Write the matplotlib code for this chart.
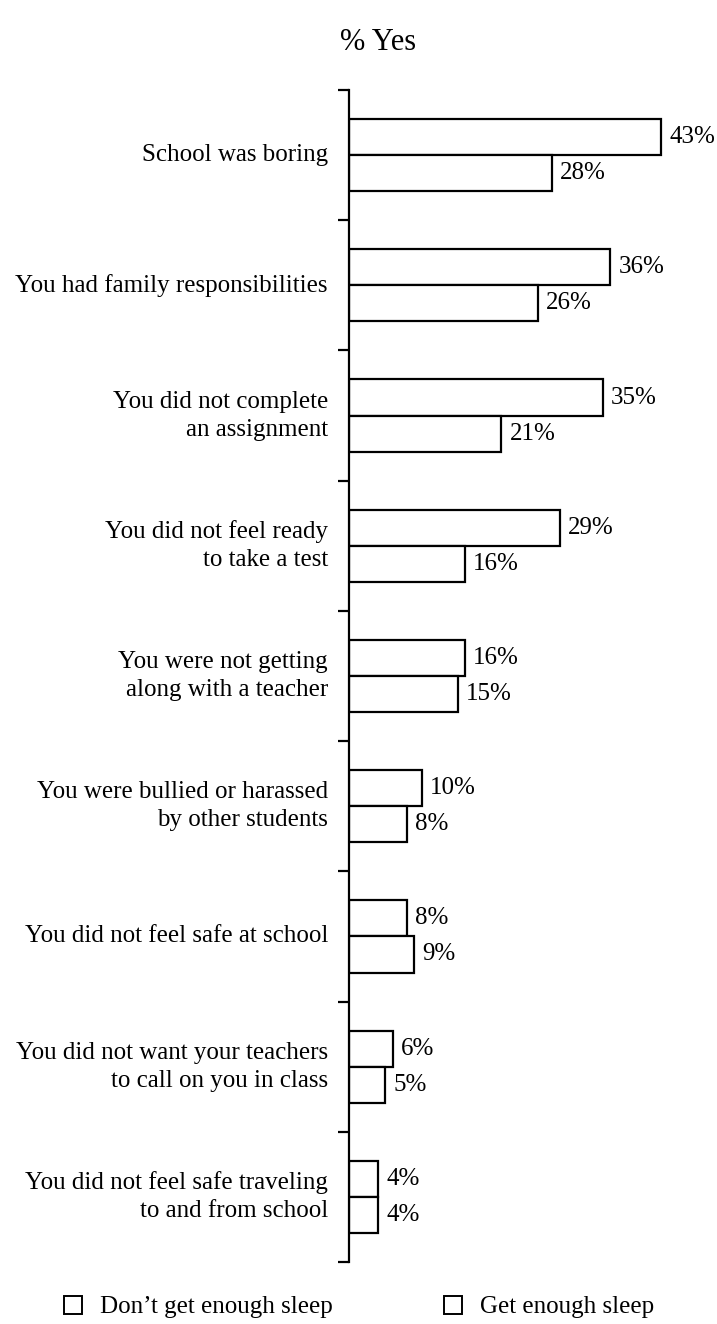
import matplotlib
matplotlib.use("Agg")
import matplotlib.pyplot as plt
from matplotlib.patches import Patch
import numpy as np

plt.rcParams['font.family'] = ['Liberation Serif', 'DejaVu Serif']

categories = [
    "School was boring",
    "You had family responsibilities",
    "You did not complete\nan assignment",
    "You did not feel ready\nto take a test",
    "You were not getting\nalong with a teacher",
    "You were bullied or harassed\nby other students",
    "You did not feel safe at school",
    "You did not want your teachers\nto call on you in class",
    "You did not feel safe traveling\nto and from school",
]
not_enough_sleep = [43, 36, 35, 29, 16, 10, 8, 6, 4]
enough_sleep = [28, 26, 21, 16, 15, 8, 9, 5, 4]
series_names = ["Don\u2019t get enough sleep", "Get enough sleep"]

fig = plt.figure(figsize=(7.17, 13.24), dpi=100)
W, H = 717, 1324
ax_left, ax_right = 349, 349 + 363
ax_top, ax_bottom = 90, 1262
ax = fig.add_axes([ax_left / W, 1 - ax_bottom / H, (ax_right - ax_left) / W, (ax_bottom - ax_top) / H])

n = len(categories)
y = np.arange(n)
h = 0.277
ax.barh(y - h / 2, not_enough_sleep, height=h, color='white', edgecolor='black', linewidth=1.6)
ax.barh(y + h / 2, enough_sleep, height=h, color='white', edgecolor='black', linewidth=1.6)

for yi, v in zip(y - h / 2, not_enough_sleep):
    ax.text(v + 1.1, yi, f"{v}%", va='center', ha='left', fontsize=18)
for yi, v in zip(y + h / 2, enough_sleep):
    ax.text(v + 1.1, yi, f"{v}%", va='center', ha='left', fontsize=18)

ax.set_xlim(0, 50)
ax.set_ylim(n - 0.5, -0.5)
for s in ['top', 'right', 'bottom']:
    ax.spines[s].set_visible(False)
ax.spines['left'].set_linewidth(1.6)
ax.set_xticks([])
ax.set_yticks(np.arange(-0.5, n, 1.0))
ax.set_yticklabels([])
ax.tick_params(axis='y', direction='out', length=8, width=1.6)

for yi, c in zip(y, categories):
    ax.text(-0.058, yi, c, transform=ax.get_yaxis_transform(),
            ha='right', va='center', fontsize=18, linespacing=1.35)

fig.text(378 / W, 1 - 42 / H, "% Yes", ha='center', va='center', fontsize=22)

handles = [Patch(facecolor='white', edgecolor='black', linewidth=1.4) for _ in series_names]
fig.legend(handles, series_names, loc='center', bbox_to_anchor=(359 / W, 1 - 1307 / H), ncol=2,
           frameon=False, fontsize=18, handlelength=0.72, handleheight=0.72,
           handletextpad=0.72, columnspacing=4.48, borderpad=0, borderaxespad=0)

fig.savefig("out.png", dpi=100)
